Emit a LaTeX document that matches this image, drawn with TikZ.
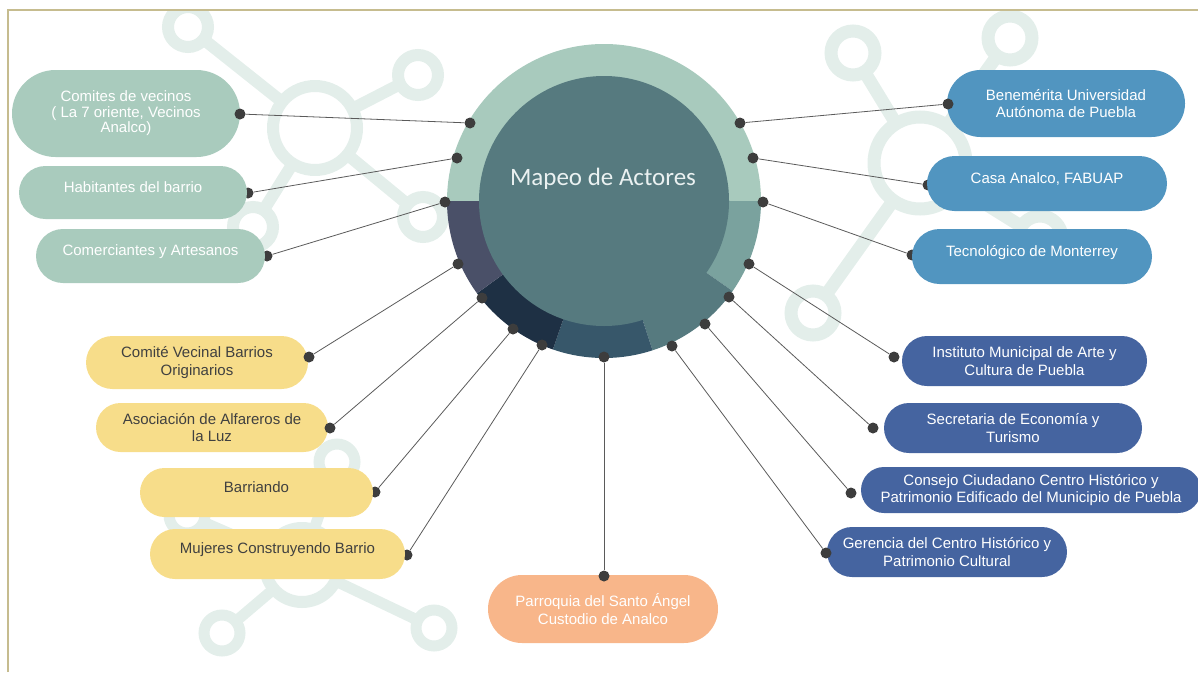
\documentclass[tikz,border=0pt]{standalone}
\usepackage{fontspec}
\setmainfont{Liberation Sans}
\newfontfamily\titlefont{Carlito}
\usetikzlibrary{shapes.misc}
\definecolor{cGreen}{HTML}{A9CBBD}
\definecolor{cBlue}{HTML}{5195C0}
\definecolor{cNavy}{HTML}{4564A0}
\definecolor{cYellow}{HTML}{F7DD8A}
\definecolor{cOrange}{HTML}{F8B68A}
\definecolor{cHub}{HTML}{567A7F}
\definecolor{cRing}{HTML}{A8CABD}
\definecolor{cTeal}{HTML}{7AA29E}
\definecolor{cDeep}{HTML}{37576A}
\definecolor{cMidnight}{HTML}{1E3044}
\definecolor{cSlate}{HTML}{4A5068}
\definecolor{cDot}{HTML}{3D3D3D}
\definecolor{cLink}{HTML}{5A5A5A}
\definecolor{cMol}{HTML}{E3EEEA}
\definecolor{cFrame}{HTML}{C6BC8F}
\definecolor{cTitle}{HTML}{EAF1F1}
\definecolor{cInk}{HTML}{404040}
\tikzset{
	actor/.style={shape=rounded rectangle, inner sep=0pt, align=center, text=white, font=\fontsize{15}{17.5}\selectfont},
	oneline/.style={text height=11pt, text depth=12pt},
	dot/.style={shape=circle, fill=cDot, minimum size=11pt, inner sep=0pt},
	link/.style={draw=cLink, line width=0.8pt},
	mol/.style={draw=cMol, line width=12pt},
}

\begin{document}
\begin{tikzpicture}[x=1pt,y=-1pt]
		\useasboundingbox (0,0) rectangle (1198,672);
		\clip (0,0) rectangle (1198,672);
		% faint molecules behind everything
		\begin{scope}
			\clip (9,11) rectangle (1198,672);
			\foreach \x/\y in {188/27, 418/75, 423/217, 253/227}
				\draw[mol] (315,128) -- (\x,\y);
			\foreach \x/\y in {188/27, 418/75, 423/217, 253/227}
				\draw[mol, fill=white] (\x,\y) circle (20);
			\draw[mol, fill=white] (315,128) circle (42);
			\foreach \x/\y in {853/53, 1010/38, 1040/238, 813/313}
				\draw[mol, line width=13pt] (920,163) -- (\x,\y);
			\foreach \x/\y in {853/53, 1010/38, 1040/238, 813/313}
				\draw[mol, line width=13pt, fill=white] (\x,\y) circle (22);
			\draw[mol, line width=13pt, fill=white] (920,163) circle (46);
			\foreach \x/\y in {337/462, 187/515, 222/633, 434/628}
				\draw[mol, line width=11pt] (302,565) -- (\x,\y);
			\foreach \x/\y in {337/462, 187/515, 222/633, 434/628}
				\draw[mol, line width=11pt, fill=white] (\x,\y) circle (18);
			\draw[mol, fill=white] (302,565) circle (37);
		\end{scope}
		\draw[cFrame, line width=2pt] (8,672) -- (8,10) -- (1198,10);
		% central hub
		\coordinate (hub) at (604,201);
		\fill[cRing] (hub) -- ++(180:157) arc[start angle=180, end angle=360, radius=157] -- cycle;
		\fill[cTeal] (hub) -- ++(0:157) arc[start angle=0, end angle=35, radius=157] -- cycle;
		\fill[cHub] (hub) -- ++(35:157) arc[start angle=35, end angle=72, radius=157] -- cycle;
		\fill[cDeep] (hub) -- ++(72:157) arc[start angle=72, end angle=109, radius=157] -- cycle;
		\fill[cMidnight] (hub) -- ++(109:157) arc[start angle=109, end angle=144, radius=157] -- cycle;
		\fill[cSlate] (hub) -- ++(144:157) arc[start angle=144, end angle=180, radius=157] -- cycle;
		\fill[cHub] (hub) circle (125);
		\node[font=\titlefont\fontsize{25}{30}\selectfont, text=cTitle] (title) at (603,179) {Mapeo de Actores};
		\node[dot] (r1) at (470,123) {};
		\node[dot] (r2) at (457,158) {};
		\node[dot] (r3) at (445,202) {};
		\node[dot] (r4) at (458,264) {};
		\node[dot] (r5) at (482,298) {};
		\node[dot] (r6) at (513,329) {};
		\node[dot] (r7) at (542,345) {};
		\node[dot] (r8) at (604,357) {};
		\node[dot] (r9) at (740,123) {};
		\node[dot] (r10) at (753,158) {};
		\node[dot] (r11) at (763,202) {};
		\node[dot] (r12) at (749,264) {};
		\node[dot] (r13) at (729,297) {};
		\node[dot] (r14) at (705,324) {};
		\node[dot] (r15) at (672,346) {};
		% dots half hidden by their boxes
		\node[dot] (e2) at (248,193) {};
		\node[dot] (e3) at (267,256) {};
		\node[dot] (e6) at (375,492) {};
		\node[dot] (e7) at (407,555) {};
		\node[dot] (e10) at (928,185) {};
		\node[dot] (e11) at (912,255) {};
		% actors
		\node[actor, fill=cGreen, minimum width=228pt, minimum height=87pt, font=\fontsize{15}{15.5}\selectfont] (comites) at (126,113.5) {Comites de vecinos\\( La 7 oriente, Vecinos\\Analco)};
		\node[actor, oneline, fill=cGreen, minimum width=228pt, minimum height=53pt] (habitantes) at (133,192.5) {Habitantes del barrio};
		\node[actor, oneline, fill=cGreen, minimum width=229pt, minimum height=54pt] (comerciantes) at (150.5,256) {Comerciantes y Artesanos};
		\node[actor, fill=cBlue, minimum width=238pt, minimum height=67pt] (buap) at (1066,103.5) {Benemérita Universidad\\Autónoma de Puebla};
		\node[actor, oneline, fill=cBlue, minimum width=240pt, minimum height=55pt] (casa) at (1047,183.5) {Casa Analco, FABUAP};
		\node[actor, oneline, fill=cBlue, minimum width=240pt, minimum height=55pt] (tec) at (1032,256.5) {Tecnológico de Monterrey};
		\node[actor, fill=cNavy, minimum width=245pt, minimum height=50pt] (imacp) at (1024.5,361) {Instituto Municipal de Arte y\\Cultura de Puebla};
		\node[actor, fill=cNavy, minimum width=258pt, minimum height=50pt] (secret) at (1013,428) {Secretaria de Economía y\\Turismo};
		\node[actor, fill=cNavy, minimum width=340pt, minimum height=46pt] (consejo) at (1031,490) {Consejo Ciudadano Centro Histórico y\\Patrimonio Edificado del Municipio de Puebla};
		\node[actor, fill=cNavy, minimum width=240pt, minimum height=50pt] (gerencia) at (947,552) {Gerencia del Centro Histórico y\\Patrimonio Cultural};
		\node[actor, fill=cYellow, text=cInk, minimum width=222pt, minimum height=53pt] (vecinal) at (197,362.5) {Comité Vecinal Barrios\\Originarios};
		\node[actor, fill=cYellow, text=cInk, minimum width=232pt, minimum height=49pt] (alfareros) at (212,427.5) {Asociación de Alfareros de\\la Luz};
		\node[actor, oneline, fill=cYellow, text=cInk, minimum width=233pt, minimum height=49pt] (barriando) at (256.5,492.5) {Barriando};
		\node[actor, oneline, fill=cYellow, text=cInk, minimum width=255pt, minimum height=50pt] (mujeres) at (277.5,554) {Mujeres Construyendo Barrio};
		\node[actor, fill=cOrange, minimum width=230pt, minimum height=68pt] (parroquia) at (603,609) {Parroquia del Santo Ángel\\Custodio de Analco};
		% dots on top of their boxes
		\node[dot] (e1) at (240,114) {};
		\node[dot] (e4) at (309,357) {};
		\node[dot] (e5) at (330,428) {};
		\node[dot] (e8) at (604,576) {};
		\node[dot] (e9) at (948,104) {};
		\node[dot] (e12) at (894,357) {};
		\node[dot] (e13) at (873,428) {};
		\node[dot] (e14) at (851,493) {};
		\node[dot] (e15) at (826,553) {};
		\path[link] (r1) edge (e1);
		\path[link] (r2) edge (e2);
		\path[link] (r3) edge (e3);
		\path[link] (r4) edge (e4);
		\path[link] (r5) edge (e5);
		\path[link] (r6) edge (e6);
		\path[link] (r7) edge (e7);
		\path[link] (r8) edge (e8);
		\path[link] (r9) edge (e9);
		\path[link] (r10) edge (e10);
		\path[link] (r11) edge (e11);
		\path[link] (r12) edge (e12);
		\path[link] (r13) edge (e13);
		\path[link] (r14) edge (e14);
		\path[link] (r15) edge (e15);
	\end{tikzpicture}
\end{document}
